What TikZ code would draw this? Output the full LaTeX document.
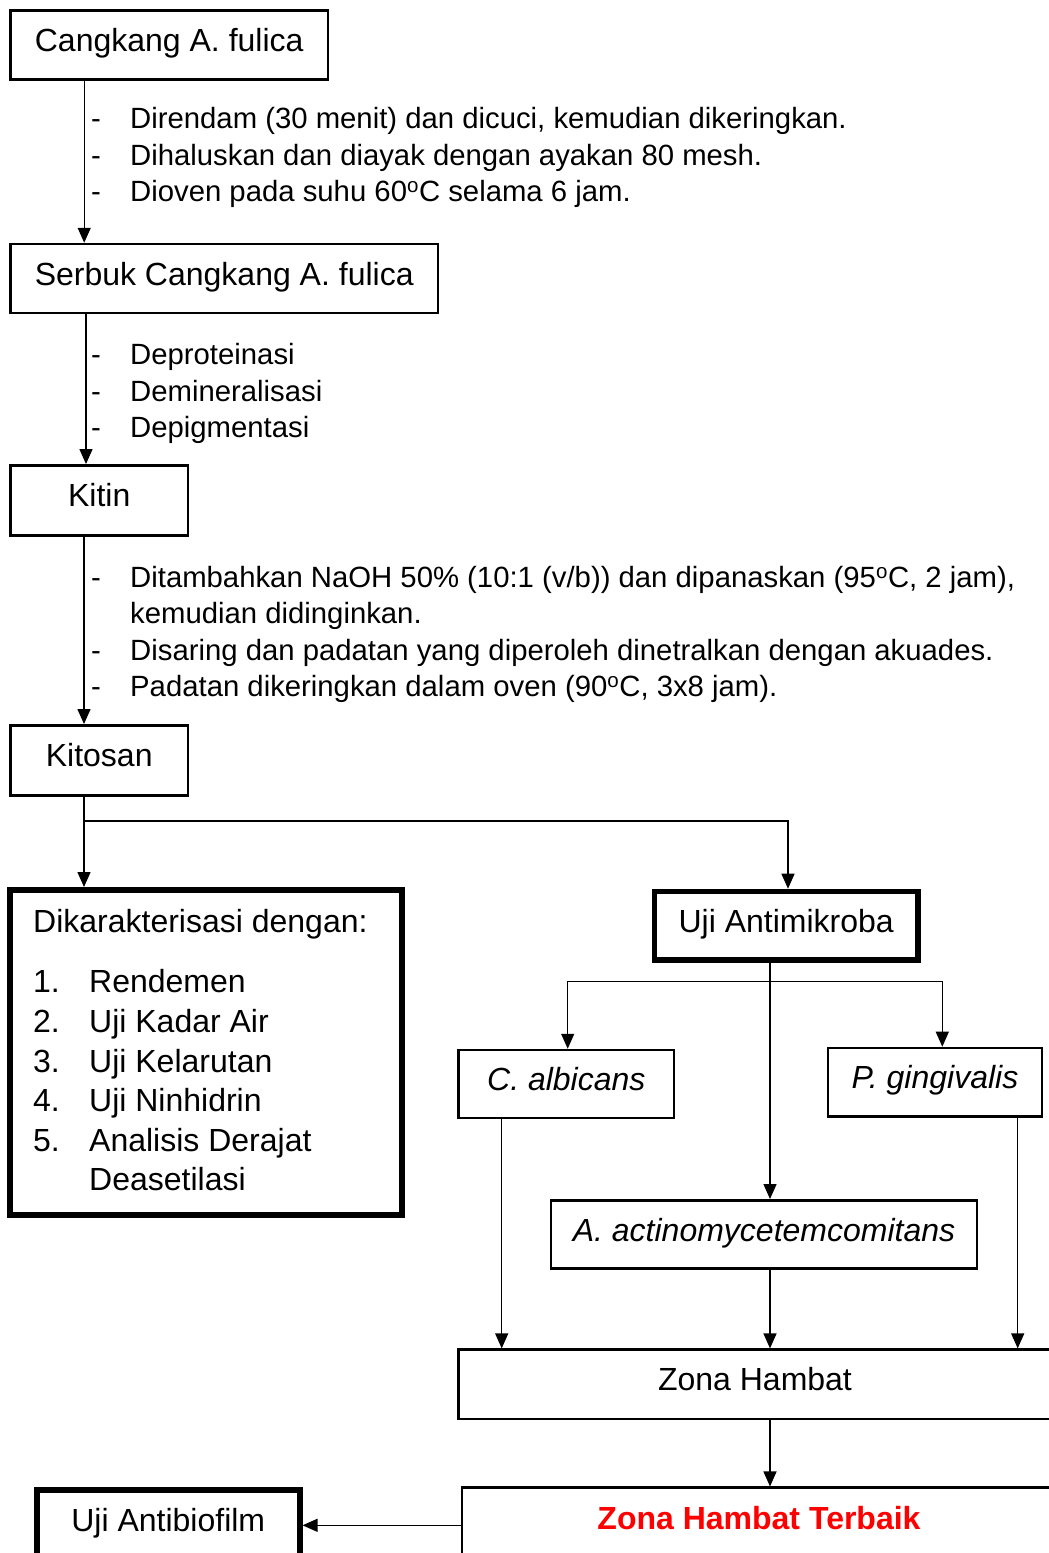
\documentclass[tikz,border=0pt]{standalone}
\usepackage{fontspec}
\setmainfont{Liberation Sans}
\usetikzlibrary{arrows.meta}
\newcommand{\boxfont}{\fontsize{32}{38}\selectfont}
\newcommand{\stepfont}{\fontsize{29.3}{36}\selectfont}
\begin{document}
\begin{tikzpicture}[x=1pt,y=-1pt,
  flowbox/.style={draw, line width=2.5pt, inner sep=0pt, font=\boxfont, text height=24pt, text depth=11pt, align=center},
  thickbox/.style={flowbox, line width=5.5pt},
  steptext/.style={anchor=base west, inner sep=0pt, font=\stepfont},
  listtext/.style={anchor=base west, inner sep=0pt, font=\boxfont},
  conn/.style={line width=1.3pt},
  arr/.style={conn, -{Triangle[length=15pt,width=13pt]}}]
\path[use as bounding box] (0,0) rectangle (1049,1553);
\clip (0,0) rectangle (1049,1553);

% boxes
\node[flowbox, minimum width=317.7pt, minimum height=69.4pt] (b1) at (169.2,45) {Cangkang A. fulica};
\node[flowbox, minimum width=427.7pt, minimum height=69pt] (b2) at (224.2,278.5) {Serbuk Cangkang A. fulica};
\node[flowbox, minimum width=177.7pt, minimum height=70pt] (b3) at (99.2,500.3) {Kitin};
\node[flowbox, minimum width=177.7pt, minimum height=70pt] (b4) at (99.2,760.3) {Kitosan};
\node[thickbox, line width=6pt, minimum width=392.5pt, minimum height=325pt] (b5) at (206.2,1052.5) {};
\node[thickbox, minimum width=263.5pt, minimum height=68.5pt] (b6) at (786.2,925.7) {Uji Antimikroba};
\node[flowbox, minimum width=215.3pt, minimum height=68pt] (b7) at (566.3,1084) {\itshape C. albicans};
\node[flowbox, minimum width=214pt, minimum height=68.5pt] (b8) at (935,1082.2) {\itshape P. gingivalis};
\node[flowbox, minimum width=426pt, minimum height=68.4pt] (b9) at (764,1234.5) {\itshape A. actinomycetemcomitans};
\node[flowbox, minimum width=592.8pt, minimum height=69.3pt] (b10) at (755,1384.3) {Zona Hambat};
\node[flowbox, minimum width=593.8pt, minimum height=70pt, text=red, font=\boxfont\bfseries] (b11) at (759,1522.7) {Zona Hambat Terbaik};
\node[thickbox, line width=6pt, minimum width=262.5pt, minimum height=70pt] (b12) at (168.3,1525.3) {Uji Antibiofilm};

% step texts 1
\node[steptext] (d1a) at (91,128) {-};
\node[steptext] (t1a) at (130,128) {Direndam (30 menit) dan dicuci, kemudian dikeringkan.};
\node[steptext] (d1b) at (91,165) {-};
\node[steptext] (t1b) at (130,165) {Dihaluskan dan diayak dengan ayakan 80 mesh.};
\node[steptext] (d1c) at (91,201.5) {-};
\node[steptext] (t1c) at (130,201.5) {Dioven pada suhu 60\textsuperscript{o}C selama 6 jam.};

% step texts 2
\node[steptext] (d2a) at (91,364.5) {-};
\node[steptext] (t2a) at (130,364.5) {Deproteinasi};
\node[steptext] (d2b) at (91,401) {-};
\node[steptext] (t2b) at (130,401) {Demineralisasi};
\node[steptext] (d2c) at (91,437.5) {-};
\node[steptext] (t2c) at (130,437.5) {Depigmentasi};

% step texts 3
\node[steptext] (d3a) at (91,587.5) {-};
\node[steptext] (t3a) at (130,587.5) {Ditambahkan NaOH 50\% (10:1 (v/b)) dan dipanaskan (95\textsuperscript{o}C, 2 jam),};
\node[steptext] (t3b) at (130,623.5) {kemudian didinginkan.};
\node[steptext] (d3c) at (91,660) {-};
\node[steptext] (t3c) at (130,660) {Disaring dan padatan yang diperoleh dinetralkan dengan akuades.};
\node[steptext] (d3d) at (91,696.5) {-};
\node[steptext] (t3d) at (130,696.5) {Padatan dikeringkan dalam oven (90\textsuperscript{o}C, 3x8 jam).};

% characterisation list
\node[listtext] (lh) at (33,932) {Dikarakterisasi dengan:};
\node[listtext] (n1) at (33,992) {1.};
\node[listtext] (l1) at (89,992) {Rendemen};
\node[listtext] (n2) at (33,1032) {2.};
\node[listtext] (l2) at (89,1032) {Uji Kadar Air};
\node[listtext] (n3) at (33,1072) {3.};
\node[listtext] (l3) at (89,1072) {Uji Kelarutan};
\node[listtext] (n4) at (33,1111.5) {4.};
\node[listtext] (l4) at (89,1111.5) {Uji Ninhidrin};
\node[listtext] (n5) at (33,1151) {5.};
\node[listtext] (l5) at (89,1151) {Analisis Derajat};
\node[listtext] (l5b) at (89,1190.5) {Deasetilasi};

% helper coordinates
\coordinate (ax1) at (84.2,0);
\coordinate (ax2) at (86,0);
\coordinate (ax3) at (84,0);
\coordinate (br1) at (84,821);
\coordinate (br2) at (788,821);
\coordinate (am) at (770,0);
\coordinate (bl) at (567.7,981.5);
\coordinate (bR) at (942.3,981.5);
\coordinate (ca) at (501.7,0);
\coordinate (pg) at (1017.7,0);

% connectors
\draw[arr] (b1.south -| ax1) -- (b2.north -| ax1);
\draw[arr] (b2.south -| ax2) -- (b3.north -| ax2);
\draw[arr] (b3.south -| ax3) -- (b4.north -| ax3);
\draw[arr] (b4.south -| ax3) -- (b5.north -| ax3);
\draw[arr] (br1) -- (br2) -- (b6.north -| br2);
\draw[arr] (b6.south -| am) -- (b9.north -| am);
\draw[arr] (bl -| am) -- (bl) -- (b7.north -| bl);
\draw[arr] (bl -| am) -- (bR) -- (b8.north -| bR);
\draw[arr] (b7.south -| ca) -- (b10.north -| ca);
\draw[arr] (b9.south -| am) -- (b10.north -| am);
\draw[arr] (b8.south -| pg) -- (b10.north -| pg);
\draw[arr] (b10.south -| am) -- (b11.north -| am);
\draw[arr] (b11.west |- b12.east) -- (b12.east);
\end{tikzpicture}
\end{document}
